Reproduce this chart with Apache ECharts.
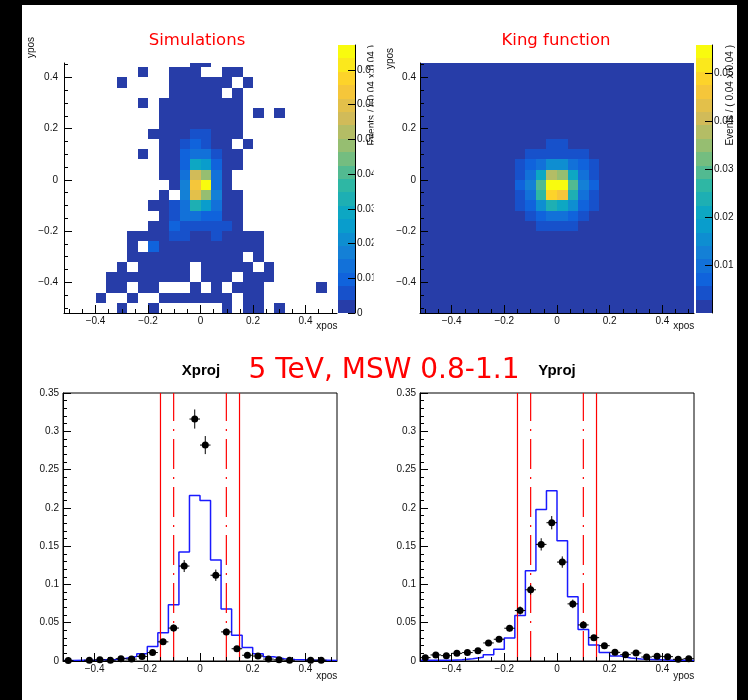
<!DOCTYPE html>
<html>
<head>
<meta charset="utf-8">
<script src="https://cdn.jsdelivr.net/npm/echarts@6.0.0/dist/echarts.min.js"></script>
<style>
html,body{margin:0;padding:0;background:#fff;}
#chart{width:748px;height:700px;}
</style>
</head>
<body>
<div id="chart"></div>
<script>
// ================= DATA =================
// bin centres (x) of the 0.04-wide bins from -0.52 to 0.52
const binCenters = [-0.50,-0.46,-0.42,-0.38,-0.34,-0.30,-0.26,-0.22,-0.18,-0.14,-0.10,-0.06,-0.02,
                     0.02, 0.06, 0.10, 0.14, 0.18, 0.22, 0.26, 0.30, 0.34, 0.38, 0.42, 0.46, 0.50];
// bin centres (y) of the 2D maps, bottom to top
const rowCenters = [-0.50,-0.46,-0.42,-0.38,-0.34,-0.30,-0.26,-0.22,-0.18,-0.14,-0.10,-0.06,-0.02,
                     0.02, 0.06, 0.10, 0.14, 0.18, 0.22, 0.26, 0.30, 0.34, 0.38, 0.42, 0.46];
const binWidth = 0.04;

// tick labels
const xMajorTicks = [-0.4,-0.2,0,0.2,0.4];
const xMinorTicks = [-0.5,-0.45,-0.35,-0.3,-0.25,-0.15,-0.1,-0.05,0.05,0.1,0.15,0.25,0.3,0.35,0.45,0.5];
const yMajorTicks = [-0.4,-0.2,0,0.2,0.4];
const yMinorTicks = [-0.5,-0.45,-0.35,-0.3,-0.25,-0.15,-0.1,-0.05,0.05,0.1,0.15,0.25,0.3,0.35,0.45];
const simCbTicks  = [0,0.01,0.02,0.03,0.04,0.05,0.06,0.07];
const kingCbTicks = [0.01,0.02,0.03,0.04,0.05];

// Simulations 2D map, rows from top (y=0.46) to bottom (y=-0.50); 0 = empty bin
const simRows = [
[0,0,0,0,0,0,0,0,0,0,0,0,.002,.002,0,0,0,0,0,0,0,0,0,0,0,0],
[0,0,0,0,0,0,0,.002,0,0,.002,.002,.002,0,0,.002,.002,0,0,0,0,0,0,0,0,0],
[0,0,0,0,0,.002,0,0,0,0,.002,.002,.002,.002,.002,.002,0,.002,0,0,0,0,0,0,0,0],
[0,0,0,0,0,0,0,0,0,0,.002,.002,.002,.002,.002,0,.002,0,0,0,0,0,0,0,0,0],
[0,0,0,0,0,0,0,.002,0,.002,.002,.002,.002,.002,.002,.002,.002,0,0,0,0,0,0,0,0,0],
[0,0,0,0,0,0,0,0,0,.002,.002,.002,.002,.002,.002,.002,.002,0,.002,0,.002,0,0,0,0,0],
[0,0,0,0,0,0,0,0,0,.002,.002,.002,.002,.002,.002,.002,.002,0,0,0,0,0,0,0,0,0],
[0,0,0,0,0,0,0,0,.002,.002,.002,.002,.006,.006,.002,.002,.002,0,0,0,0,0,0,0,0,0],
[0,0,0,0,0,0,0,0,0,.002,.002,.006,.0095,.006,.002,.002,0,.002,0,0,0,0,0,0,0,0],
[0,0,0,0,0,0,0,.002,0,.002,.002,.0095,.0135,.0135,.006,.002,.002,0,0,0,0,0,0,0,0,0],
[0,0,0,0,0,0,0,0,0,.002,.002,.0105,.029,.025,.0095,.002,.002,0,0,0,0,0,0,0,0,0],
[0,0,0,0,0,0,0,0,0,.002,.002,.0135,.056,.048,.0135,.002,0,0,0,0,0,0,0,0,0,0],
[0,0,0,0,0,0,0,0,0,0,.002,.0175,.064,.0772,.0135,.002,0,0,0,0,0,0,0,0,0,0],
[0,0,0,0,0,0,0,0,0,.002,0,.0175,.060,.048,.0175,.002,.002,0,0,0,0,0,0,0,0,0],
[0,0,0,0,0,0,0,0,.002,.002,.006,.0135,.0325,.025,.0135,.002,.002,0,0,0,0,0,0,0,0,0],
[0,0,0,0,0,0,0,0,0,.002,.0075,.0135,.0135,.0095,.0095,.002,.002,0,0,0,0,0,0,0,0,0],
[0,0,0,0,0,0,0,0,.002,.002,.0095,.006,.006,.006,.006,.006,.002,0,0,0,0,0,0,0,0,0],
[0,0,0,0,0,0,.002,.002,.002,.002,.006,.006,.002,.002,.006,.002,.002,.002,.002,0,0,0,0,0,0,0],
[0,0,0,0,0,0,.002,0,.0095,.002,.002,.002,.002,.002,.002,.002,.002,.002,.002,0,0,0,0,0,0,0],
[0,0,0,0,0,0,.002,.002,.002,.002,.002,.002,.002,.002,.002,.002,.002,0,.002,0,0,0,0,0,0,0],
[0,0,0,0,0,.002,0,.002,.002,.002,.002,.002,0,.002,.002,.002,.002,.002,0,.002,0,0,0,0,0,0],
[0,0,0,0,.002,.002,.002,.002,.002,.002,.002,.002,0,.002,.002,.002,0,.002,.002,.002,0,0,0,0,0,0],
[0,0,0,0,.002,.002,0,.002,.002,0,0,0,.002,0,.002,0,.002,.002,.002,0,0,0,0,0,.002,0],
[0,0,0,.002,0,0,.002,0,0,.002,.002,.002,.002,.002,.002,.002,0,.002,.002,0,0,0,0,0,0,0],
[0,0,0,0,0,.002,0,0,.002,0,0,0,0,0,0,.002,0,.002,.002,0,.002,0,0,0,0,0]
];

// King function 2D map, rows from top (y=0.46) to bottom (y=-0.50)
const kingRows = [
[.001,.001,.001,.001,.001,.001,.001,.001,.001,.001,.001,.001,.001,.001,.001,.001,.001,.001,.001,.001,.001,.001,.001,.001,.001,.001],
[.001,.001,.001,.001,.001,.001,.001,.001,.001,.001,.001,.001,.001,.001,.001,.001,.001,.001,.001,.001,.001,.001,.001,.001,.001,.001],
[.001,.001,.001,.001,.001,.001,.001,.001,.001,.001,.001,.001,.001,.001,.001,.001,.001,.001,.001,.001,.001,.001,.001,.001,.001,.001],
[.001,.001,.001,.001,.001,.001,.001,.001,.001,.001,.001,.001,.001,.001,.001,.001,.001,.001,.001,.001,.001,.001,.001,.001,.001,.001],
[.001,.001,.001,.001,.001,.001,.001,.001,.001,.001,.001,.001,.001,.001,.001,.001,.001,.001,.001,.001,.001,.001,.001,.001,.001,.001],
[.001,.001,.001,.001,.001,.001,.001,.001,.001,.001,.001,.001,.001,.001,.001,.001,.001,.001,.001,.001,.001,.001,.001,.001,.001,.001],
[.001,.001,.001,.001,.001,.001,.001,.001,.001,.001,.001,.001,.001,.001,.001,.001,.001,.001,.001,.001,.001,.001,.001,.001,.001,.001],
[.001,.001,.001,.001,.001,.001,.001,.001,.001,.001,.001,.001,.001,.001,.001,.001,.001,.001,.001,.001,.001,.001,.001,.001,.001,.001],
[.001,.001,.001,.001,.001,.001,.001,.001,.001,.001,.001,.001,.004,.004,.001,.001,.001,.001,.001,.001,.001,.001,.001,.001,.001,.001],
[.001,.001,.001,.001,.001,.001,.001,.001,.001,.001,.004,.004,.0045,.0045,.004,.004,.001,.001,.001,.001,.001,.001,.001,.001,.001,.001],
[.001,.001,.001,.001,.001,.001,.001,.001,.001,.004,.0065,.009,.015,.0145,.009,.0065,.004,.001,.001,.001,.001,.001,.001,.001,.001,.001],
[.001,.001,.001,.001,.001,.001,.001,.001,.001,.004,.009,.021,.038,.035,.021,.009,.004,.001,.001,.001,.001,.001,.001,.001,.001,.001],
[.001,.001,.001,.001,.001,.001,.001,.001,.001,.0065,.012,.029,.0558,.0558,.029,.012,.0065,.001,.001,.001,.001,.001,.001,.001,.001,.001],
[.001,.001,.001,.001,.001,.001,.001,.001,.001,.004,.009,.026,.049,.046,.0235,.009,.004,.001,.001,.001,.001,.001,.001,.001,.001,.001],
[.001,.001,.001,.001,.001,.001,.001,.001,.001,.004,.0065,.015,.0235,.021,.015,.0065,.004,.001,.001,.001,.001,.001,.001,.001,.001,.001],
[.001,.001,.001,.001,.001,.001,.001,.001,.001,.001,.004,.0065,.009,.009,.0065,.004,.001,.001,.001,.001,.001,.001,.001,.001,.001,.001],
[.001,.001,.001,.001,.001,.001,.001,.001,.001,.001,.001,.004,.004,.004,.004,.001,.001,.001,.001,.001,.001,.001,.001,.001,.001,.001],
[.001,.001,.001,.001,.001,.001,.001,.001,.001,.001,.001,.001,.001,.001,.001,.001,.001,.001,.001,.001,.001,.001,.001,.001,.001,.001],
[.001,.001,.001,.001,.001,.001,.001,.001,.001,.001,.001,.001,.001,.001,.001,.001,.001,.001,.001,.001,.001,.001,.001,.001,.001,.001],
[.001,.001,.001,.001,.001,.001,.001,.001,.001,.001,.001,.001,.001,.001,.001,.001,.001,.001,.001,.001,.001,.001,.001,.001,.001,.001],
[.001,.001,.001,.001,.001,.001,.001,.001,.001,.001,.001,.001,.001,.001,.001,.001,.001,.001,.001,.001,.001,.001,.001,.001,.001,.001],
[.001,.001,.001,.001,.001,.001,.001,.001,.001,.001,.001,.001,.001,.001,.001,.001,.001,.001,.001,.001,.001,.001,.001,.001,.001,.001],
[.001,.001,.001,.001,.001,.001,.001,.001,.001,.001,.001,.001,.001,.001,.001,.001,.001,.001,.001,.001,.001,.001,.001,.001,.001,.001],
[.001,.001,.001,.001,.001,.001,.001,.001,.001,.001,.001,.001,.001,.001,.001,.001,.001,.001,.001,.001,.001,.001,.001,.001,.001,.001],
[.001,.001,.001,.001,.001,.001,.001,.001,.001,.001,.001,.001,.001,.001,.001,.001,.001,.001,.001,.001,.001,.001,.001,.001,.001,.001]
];

// X projection: simulation points (null = empty bin), their errors, King function histogram
const xprojSim    = [0.0005,null,0.001,0.0015,0.001,0.003,0.0025,0.006,0.011,0.025,0.043,0.124,0.316,
                     0.282,0.112,0.038,0.016,0.0075,0.0065,0.0025,0.0015,0.001,null,0.001,0.001,null];
const xprojSimErr = [0.0005,null,0.0007,0.0009,0.0007,0.0012,0.0011,0.0017,0.0023,0.0035,0.0046,0.0078,0.0125,
                     0.0118,0.0074,0.0043,0.0028,0.0019,0.0018,0.0011,0.0009,0.0007,null,0.0007,0.0007,null];
const xprojKing   = [0.0008,0.001,0.001,0.0015,0.002,0.0035,0.006,0.0095,0.019,0.037,0.0735,0.1425,0.216,
                     0.2095,0.132,0.068,0.0335,0.0175,0.0095,0.0055,0.003,0.002,0.0015,0.001,0.001,0.0008];

// Y projection
const yprojSim    = [0.0044,0.0079,0.007,0.010,0.011,0.0135,0.0236,0.0284,0.0428,0.0659,0.093,0.1523,0.1806,
                     0.1292,0.0746,0.0471,0.0305,0.020,0.0113,0.0083,0.0105,0.0052,0.0061,0.0057,0.0022,0.003];
const yprojSimErr = [0.0014,0.0018,0.0017,0.002,0.0021,0.0024,0.0032,0.0034,0.0042,0.0053,0.0063,0.008,0.0087,
                     0.0074,0.0056,0.0044,0.0036,0.0029,0.0022,0.0019,0.0021,0.0015,0.0016,0.0015,0.001,0.0011];
const yprojKing   = [0.001,0.001,0.001,0.0015,0.003,0.005,0.0083,0.0153,0.030,0.0595,0.118,0.198,0.2225,
                     0.157,0.084,0.041,0.021,0.011,0.0065,0.004,0.0025,0.002,0.0015,0.001,0.001,0.0008];

// selection cuts drawn as vertical lines
const cutSolid  = [-0.15, 0.15];
const cutDashed = [-0.10, 0.10];
const projYMax = 0.35;

// ================= STYLE =================
const FONT = 'Liberation Sans, Arial, Helvetica, sans-serif';
const LBL = {fontFamily: FONT, fontSize: 10, color: '#111'};
// ROOT kBird palette
const birdStops = [0.0, 0.125, 0.25, 0.375, 0.5, 0.625, 0.75, 0.875, 1.0];
const birdR = [0.2082, 0.0592, 0.0780, 0.0232, 0.1802, 0.5301, 0.8186, 0.9956, 0.9764];
const birdG = [0.1664, 0.3599, 0.5041, 0.6419, 0.7178, 0.7492, 0.7328, 0.7862, 0.9832];
const birdB = [0.5293, 0.8684, 0.8385, 0.7914, 0.6425, 0.4662, 0.3499, 0.1968, 0.0539];
function bird(f) {
  let k = 0;
  while (k < birdStops.length - 2 && f > birdStops[k + 1]) k++;
  const t = (f - birdStops[k]) / (birdStops[k + 1] - birdStops[k]);
  const c = a => Math.round(255 * (a[k] + (a[k + 1] - a[k]) * t));
  return 'rgb(' + c(birdR) + ',' + c(birdG) + ',' + c(birdB) + ')';
}
const nLevels = 20;
const palette = [];
for (let i = 0; i < nLevels; i++) palette.push(bird(Math.floor((i + 0.99) * 255 / nLevels) / 254));

function fmt(v) {
  const a = Math.round(Math.abs(v) * 1000) / 1000;
  return (v < -1e-9 ? '\u2212' : '') + a;
}

// ================= BUILD =================
function mapData(rows) {
  const out = [];
  rows.forEach((row, r) => {
    const y = rowCenters[rowCenters.length - 1 - r];
    row.forEach((v, i) => out.push([binCenters[i], y, v]));
  });
  return out;
}
const simData = mapData(simRows);
const kingData = mapData(kingRows);
const simZmax = Math.max(...simRows.flat());
const kingZmax = Math.max(...kingRows.flat());

function cellRenderer(zmax, skipEmpty) {
  return function (params, api) {
    const v = api.value(2);
    if (skipEmpty && !(v > 0)) return null;
    const x = api.value(0), y = api.value(1);
    const p0 = api.coord([x - binWidth / 2, y + binWidth / 2]);
    const p1 = api.coord([x + binWidth / 2, y - binWidth / 2]);
    const x0 = Math.round(p0[0]), x1 = Math.round(p1[0]);
    const y0 = Math.round(p0[1]), y1 = Math.round(p1[1]);
    const cs = params.coordSys;
    const shape = echarts.graphic.clipRectByRect(
      {x: x0, y: y0, width: x1 - x0, height: y1 - y0},
      {x: cs.x, y: cs.y, width: cs.width, height: cs.height});
    if (!shape) return null;
    const lvl = Math.max(0, Math.min(nLevels - 1, Math.floor(v / zmax * nLevels)));
    return {type: 'rect', shape: shape, style: {fill: palette[lvl]}};
  };
}

function colorbarData(zmax) {
  const d = [];
  for (let k = 0; k < nLevels; k++) d.push([0.5, k * zmax / nLevels, (k + 1) * zmax / nLevels, k]);
  return d;
}
function colorbarRenderer(params, api) {
  const p0 = api.coord([0, api.value(2)]);
  const p1 = api.coord([1, api.value(1)]);
  const y0 = Math.round(p0[1]), y1 = Math.round(p1[1]);
  return {type: 'rect', shape: {x: p0[0], y: y0, width: p1[0] - p0[0], height: y1 - y0},
          style: {fill: palette[api.value(3)]}};
}

function errRenderer(params, api) {
  const x = api.value(0), y = api.value(1), e = api.value(2);
  const c = api.coord([x, y]);
  const l = api.coord([x - binWidth / 2, y]);
  const r = api.coord([x + binWidth / 2, y]);
  const t = api.coord([x, y + e]);
  const b = api.coord([x, y - e]);
  return {type: 'group', children: [
    {type: 'line', shape: {x1: l[0], y1: c[1], x2: r[0], y2: c[1]}, style: {stroke: '#000', lineWidth: 1}},
    {type: 'line', shape: {x1: c[0], y1: t[1], x2: c[0], y2: b[1]}, style: {stroke: '#000', lineWidth: 1}}
  ]};
}

function points(vals) {
  const d = [];
  vals.forEach((v, k) => { if (v !== null) d.push([binCenters[k], v]); });
  return d;
}
function errPoints(vals, errs) {
  const d = [];
  vals.forEach((v, k) => { if (v !== null) d.push([binCenters[k], v, errs[k]]); });
  return d;
}
function histSteps(vals) {
  const d = vals.map((v, k) => [binCenters[k] - binWidth / 2, v]);
  d.push([binCenters[binCenters.length - 1] + binWidth / 2, vals[vals.length - 1]]);
  return d;
}

// axis helpers
function xMajor(grid, name, labelMargin, namePad) {
  return {gridIndex: grid, type: 'value', min: -0.52, max: 0.52, position: 'bottom', z: 10,
    axisLine: {show: true, onZero: false, lineStyle: {color: '#000', width: 1}},
    axisTick: {show: true, inside: true, length: 8, customValues: xMajorTicks, lineStyle: {color: '#000'}},
    axisLabel: Object.assign({customValues: xMajorTicks, formatter: fmt, margin: labelMargin}, LBL),
    splitLine: {show: false},
    name: name, nameLocation: 'end', nameGap: 0,
    nameTextStyle: Object.assign({}, LBL, {align: 'right', verticalAlign: 'top', padding: [namePad, 0, 0, 0]})};
}
function xMinor(grid) {
  return {gridIndex: grid, type: 'value', min: -0.52, max: 0.52, position: 'bottom', z: 10,
    axisLine: {show: false, onZero: false},
    axisTick: {show: true, inside: true, length: 4, customValues: xMinorTicks, lineStyle: {color: '#000'}},
    axisLabel: {show: false}, splitLine: {show: false}};
}
function yMajor(grid, labelMargin) {
  return {gridIndex: grid, type: 'value', min: -0.52, max: 0.456, position: 'left', z: 10,
    axisLine: {show: true, onZero: false, lineStyle: {color: '#000', width: 1}},
    axisTick: {show: true, inside: true, length: 8, customValues: yMajorTicks, lineStyle: {color: '#000'}},
    axisLabel: Object.assign({customValues: yMajorTicks, formatter: fmt, margin: labelMargin}, LBL),
    splitLine: {show: false}};
}
function yMinor(grid) {
  return {gridIndex: grid, type: 'value', min: -0.52, max: 0.456, position: 'left', z: 10,
    axisLine: {show: false, onZero: false},
    axisTick: {show: true, inside: true, length: 4, customValues: yMinorTicks, lineStyle: {color: '#000'}},
    axisLabel: {show: false}, splitLine: {show: false}};
}
function cbX(grid) {
  return {gridIndex: grid, type: 'value', min: 0, max: 1, show: false};
}
function cbY(grid, zmax, ticks) {
  return {gridIndex: grid, type: 'value', min: 0, max: zmax, position: 'right', z: 10,
    axisLine: {show: true, onZero: false, lineStyle: {color: '#000', width: 1}},
    axisTick: {show: true, inside: true, length: 7, customValues: ticks, lineStyle: {color: '#000'}},
    axisLabel: Object.assign({customValues: ticks, margin: 2}, LBL),
    splitLine: {show: false}};
}
function projY(grid) {
  return {gridIndex: grid, type: 'value', min: 0, max: projYMax, interval: 0.05, position: 'left', z: 10,
    axisLine: {show: true, onZero: false, lineStyle: {color: '#000', width: 1}},
    axisTick: {show: true, inside: true, length: 8, lineStyle: {color: '#000'}},
    minorTick: {show: true, splitNumber: 5, length: 4, lineStyle: {color: '#000'}},
    axisLabel: Object.assign({formatter: fmt, margin: 4}, LBL),
    splitLine: {show: false}};
}

const xAxis = [
  xMajor(0, 'xpos', 3, 8), xMinor(0), cbX(1),
  xMajor(2, 'xpos', 3, 8), xMinor(2), cbX(3),
  xMajor(4, 'xpos', 3, 10), xMinor(4),
  xMajor(5, 'ypos', 3, 10), xMinor(5)
];
const yAxis = [
  yMajor(0, 6), yMinor(0), cbY(1, simZmax, simCbTicks),
  yMajor(2, 4), yMinor(2), cbY(3, kingZmax, kingCbTicks),
  projY(4), projY(5)
];
// minor tick inside for proj y axes
yAxis[6].minorTick.inside = true; yAxis[7].minorTick.inside = true;

function cutSeries(xIdx, yIdx, xs, dashed) {
  return xs.map(x => ({type: 'line', xAxisIndex: xIdx, yAxisIndex: yIdx, symbol: 'none', silent: true, z: 4,
    data: [[x, 0], [x, projYMax]],
    lineStyle: {color: '#ff0000', width: 1.2, type: dashed ? [30, 8, 2, 8] : 'solid'}}));
}
function projSeries(xIdx, yIdx, sim, err, king) {
  return [
    {type: 'line', xAxisIndex: xIdx, yAxisIndex: yIdx, step: 'end', symbol: 'none', silent: true, z: 3,
     data: histSteps(king), lineStyle: {color: '#1a1aff', width: 1.5}},
    ...cutSeries(xIdx, yIdx, cutSolid, false),
    ...cutSeries(xIdx, yIdx, cutDashed, true),
    {type: 'custom', xAxisIndex: xIdx, yAxisIndex: yIdx, silent: true, z: 5,
     data: errPoints(sim, err), renderItem: errRenderer, encode: {x: 0, y: 1}},
    {type: 'scatter', xAxisIndex: xIdx, yAxisIndex: yIdx, silent: true, z: 6,
     data: points(sim), symbol: 'circle', symbolSize: 7, itemStyle: {color: '#000', opacity: 1}}
  ];
}

const series = [
  {type: 'custom', xAxisIndex: 0, yAxisIndex: 0, silent: true, data: simData,
   renderItem: cellRenderer(simZmax, true), encode: {x: 0, y: 1}},
  {type: 'custom', xAxisIndex: 2, yAxisIndex: 2, silent: true, data: colorbarData(simZmax),
   renderItem: colorbarRenderer, encode: {x: 0, y: 1}},
  {type: 'custom', xAxisIndex: 3, yAxisIndex: 3, silent: true, data: kingData,
   renderItem: cellRenderer(kingZmax, false), encode: {x: 0, y: 1}},
  {type: 'custom', xAxisIndex: 5, yAxisIndex: 5, silent: true, data: colorbarData(kingZmax),
   renderItem: colorbarRenderer, encode: {x: 0, y: 1}},
  ...projSeries(6, 6, xprojSim, xprojSimErr, xprojKing),
  ...projSeries(8, 7, yprojSim, yprojSimErr, yprojKing)
];

const zTitle = 'Events / ( 0.04 x 0.04 )';
const graphic = [
  {type: 'text', x: 197, y: 41, z: 50, style: {text: 'Simulations', fill: '#ff0000', font: '16.5px "DejaVu Sans"', align: 'center', verticalAlign: 'middle'}},
  {type: 'text', x: 556, y: 41, z: 50, style: {text: 'King function', fill: '#ff0000', font: '16.5px "DejaVu Sans"', align: 'center', verticalAlign: 'middle'}},
  {type: 'text', x: 384, y: 371, z: 50, style: {text: '5 TeV, MSW 0.8-1.1', fill: '#ff0000', font: '28px "DejaVu Sans"', align: 'center', verticalAlign: 'middle'}},
  {type: 'text', x: 201, y: 371, z: 50, style: {text: 'Xproj', fill: '#000', font: 'bold 15px "Liberation Sans"', align: 'center', verticalAlign: 'middle'}},
  {type: 'text', x: 557, y: 371, z: 50, style: {text: 'Yproj', fill: '#000', font: 'bold 15px "Liberation Sans"', align: 'center', verticalAlign: 'middle'}},
  {type: 'text', x: 31, y: 37, rotation: Math.PI / 2, z: 50, style: {text: 'ypos', fill: '#111', font: '10px "Liberation Sans"', align: 'right', verticalAlign: 'middle'}},
  {type: 'text', x: 390.5, y: 48, rotation: Math.PI / 2, z: 50, style: {text: 'ypos', fill: '#111', font: '10px "Liberation Sans"', align: 'right', verticalAlign: 'middle'}},
  {type: 'text', x: 372, y: 45, rotation: Math.PI / 2, z: 50, style: {text: zTitle, fill: '#111', font: '10px "Liberation Sans"', align: 'right', verticalAlign: 'middle'}},
  // crop of the left picture
  {type: 'rect', z: 100, shape: {x: 373.5, y: 30, width: 12, height: 300}, style: {fill: '#fff'}},
  {type: 'text', x: 730, y: 45, rotation: Math.PI / 2, z: 101, style: {text: zTitle, fill: '#111', font: '10px "Liberation Sans"', align: 'right', verticalAlign: 'middle'}},
  // slide borders
  {type: 'rect', z: 200, shape: {x: 0, y: 0, width: 22, height: 700}, style: {fill: '#000'}},
  {type: 'rect', z: 200, shape: {x: 0, y: 0, width: 748, height: 5}, style: {fill: '#000'}},
  {type: 'rect', z: 200, shape: {x: 737, y: 0, width: 11, height: 700}, style: {fill: '#000'}}
];

const option = {
  backgroundColor: '#fff',
  animation: false,
  grid: [
    {left: 64, top: 63, width: 273, height: 250},
    {left: 338, top: 45, width: 17, height: 268},
    {left: 420, top: 63, width: 274, height: 250},
    {left: 696, top: 45, width: 16, height: 268},
    {left: 63, top: 393, width: 274, height: 268, show: true, borderColor: '#000', borderWidth: 1, backgroundColor: 'transparent'},
    {left: 420, top: 393, width: 274, height: 268, show: true, borderColor: '#000', borderWidth: 1, backgroundColor: 'transparent'}
  ],
  xAxis: xAxis,
  yAxis: yAxis,
  series: series,
  graphic: graphic
};

const chart = echarts.init(document.getElementById('chart'), null, {renderer: 'canvas', width: 748, height: 700});
chart.setOption(option);
</script>
</body>
</html>
